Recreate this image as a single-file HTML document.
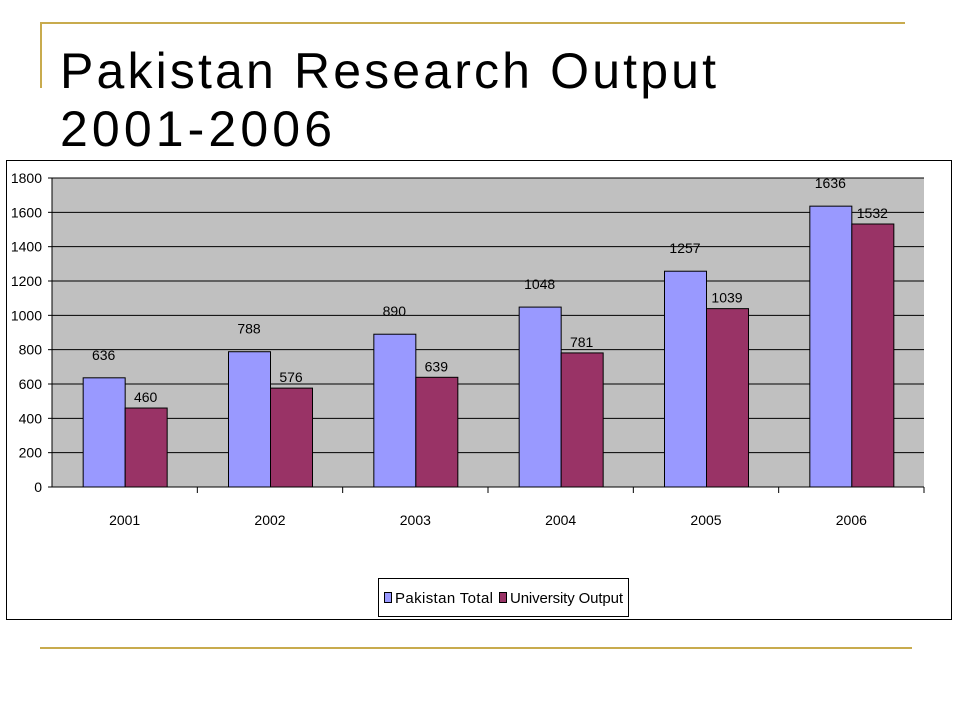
<!DOCTYPE html>
<html><head><meta charset="utf-8"><style>
body{margin:0;background:#fff;}
svg{display:block;font-family:"Liberation Sans",Arial,sans-serif;}
</style></head><body>
<svg id="chart" width="960" height="720" xmlns="http://www.w3.org/2000/svg">
<line x1="40" y1="23" x2="905" y2="23" stroke="#C8AB4E" stroke-width="2"/>
<line x1="41" y1="22" x2="41" y2="88" stroke="#C8AB4E" stroke-width="2"/>
<line x1="40" y1="648" x2="912" y2="648" stroke="#C8AB4E" stroke-width="2"/>
<text x="60" y="88" font-size="50" textLength="656">Pakistan Research Output</text>
<text x="60" y="146" font-size="50" textLength="272">2001-2006</text>
<rect x="6.5" y="160.5" width="945" height="459" fill="#fff" stroke="#000"/>
<rect x="52" y="178" width="872" height="309" fill="#C0C0C0"/>
<g id="grid"></g><g id="bars"></g><g id="labels"></g>
<rect x="378.5" y="578.5" width="250" height="38" fill="#fff" stroke="#000"/>
<rect x="384.5" y="592.5" width="7" height="10" fill="#9999FF" stroke="#000"/>
<text x="395" y="603" font-size="15" textLength="98">Pakistan Total</text>
<rect x="499.5" y="592.5" width="7" height="10" fill="#993366" stroke="#000"/>
<text x="510" y="603" font-size="15" textLength="113">University Output</text>
</svg>
<script>
const categories=["2001","2002","2003","2004","2005","2006"];
const pakistanTotal=[636,788,890,1048,1257,1636];
const universityOutput=[460,576,639,781,1039,1532];
const yTicks=[0,200,400,600,800,1000,1200,1400,1600,1800];
const NS="http://www.w3.org/2000/svg";
const x0=52,x1=924,yb=487,yt=178,ymax=1800;
const y=v=>yb-(v/ymax)*(yb-yt);
const cw=(x1-x0)/categories.length;
function mk(tag,attrs,parent){const e=document.createElementNS(NS,tag);for(const k in attrs)e.setAttribute(k,attrs[k]);document.getElementById(parent).appendChild(e);return e;}
yTicks.forEach(t=>{
 if(t>0){const g=mk('line',{x1:x0,x2:x1,y1:y(t),y2:y(t),stroke:'#000','stroke-width':1},'grid');
 
 }
 const tk=mk('line',{x1:x0-4,x2:x0,y1:y(t),y2:y(t),stroke:'#000'},'grid');
 
 
 const l=mk('text',{x:x0-10,y:y(t)+5,'font-size':14,'text-anchor':'end'},'labels');
 l.textContent=t;
 
 
});
const ax=mk('line',{x1:x0,x2:x0,y1:yt,y2:yb,stroke:'#000'},'grid');


const xa=mk('line',{x1:x0,x2:x1,y1:yb,y2:yb,stroke:'#000'},'grid');


const bw=42;
categories.forEach((c,i)=>{
 const cx=x0+cw*i+cw/2;
 const tk=mk('line',{x1:x0+cw*(i+1),x2:x0+cw*(i+1),y1:yb,y2:yb+6,stroke:'#000'},'grid');
 
 
 const b1=mk('rect',{x:cx-bw+0.5,y:y(pakistanTotal[i]),width:bw,height:yb-y(pakistanTotal[i]),fill:'#9999FF',stroke:'#000'},'bars');
 
 
 const b2=mk('rect',{x:cx+0.5,y:y(universityOutput[i]),width:bw,height:yb-y(universityOutput[i]),fill:'#993366',stroke:'#000'},'bars');
 
 
 const l1=mk('text',{x:cx-bw/2,y:y(pakistanTotal[i])-18,'font-size':14,'text-anchor':'middle'},'labels');
 l1.textContent=pakistanTotal[i];
 
 
 const l2=mk('text',{x:cx+bw/2,y:y(universityOutput[i])-18+27,'font-size':14,'text-anchor':'middle'},'labels');
 l2.setAttribute('y',y(universityOutput[i])-6);
 l2.textContent=universityOutput[i];
 
 
 const xl=mk('text',{x:cx,y:525,'font-size':14,'text-anchor':'middle'},'labels');
 xl.textContent=c;
 
 
});
</script>
</body></html>
